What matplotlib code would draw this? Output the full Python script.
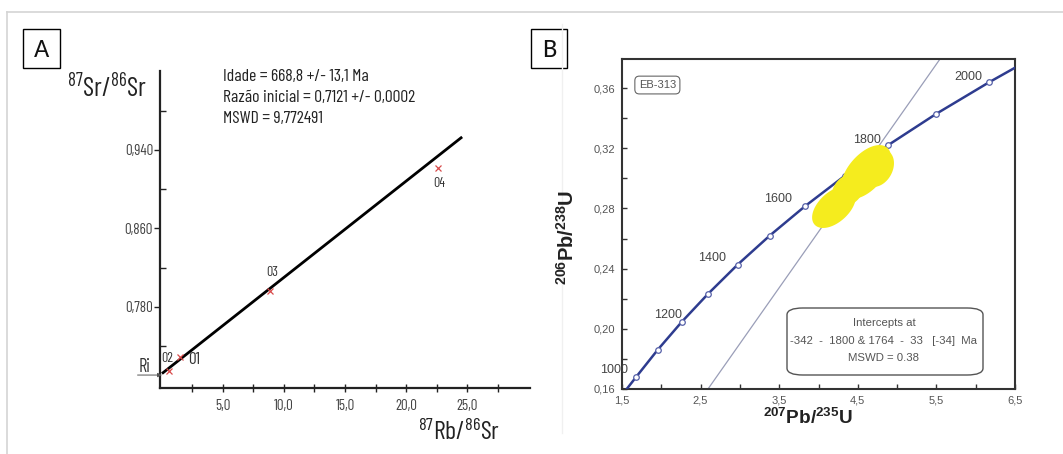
import numpy as np
import matplotlib
matplotlib.use("Agg")
import matplotlib.pyplot as plt
from matplotlib import font_manager
from matplotlib.patches import Rectangle, Polygon, FancyBboxPatch

W, H = 1063, 454
_avail = {f.name for f in font_manager.fontManager.ttflist}

def pick(*names):
    return next((n for n in names if n in _avail), "DejaVu Sans")

NARROW = pick("Barlow Condensed", "Roboto Condensed", "Archivo Narrow",
              "PT Sans Narrow", "Asap Condensed")
SANS = pick("Arimo", "Liberation Sans", "DejaVu Sans")
LETTER = pick("Carlito", "Calibri", "DejaVu Sans")

# ----------------------------------------------------------------------
# panel A data: Rb-Sr isochron
rb_sr = [0.57, 1.48, 8.85, 22.6]
sr_sr = [0.7148, 0.7290, 0.7963, 0.9217]
sample_ids = ["02", "01", "03", "04"]
label_offsets = [(-1, 9), (10, -2), (2, 13), (1, -11)]   # points
iso_x = [0.0, 24.6]
iso_y = [0.7121, 0.9533]
ri_value = 0.7121
a_xticks = [5.0, 10.0, 15.0, 20.0, 25.0]
a_xticklabels = ["5,0", "10,0", "15,0", "20,0", "25,0"]
a_yticks = [0.780, 0.860, 0.940]
a_yticklabels = ["0,780", "0,860", "0,940"]
a_text = ["Idade = 668,8 +/- 13,1 Ma",
          "Razão inicial = 0,7121 +/- 0,0002",
          "MSWD = 9,772491"]

# panel B data: U-Pb concordia
ages = [1000, 1100, 1200, 1300, 1400, 1500, 1600, 1700, 1800, 1900, 2000]
pb207_u235 = [1.677, 1.955, 2.260, 2.598, 2.970, 3.381, 3.834, 4.335, 4.887, 5.496, 6.169]
pb206_u238 = [0.1678, 0.1861, 0.2046, 0.2234, 0.2426, 0.2620, 0.2817, 0.3017, 0.3221, 0.3428, 0.3638]
curve_x = [1.56] + pb207_u235 + [6.50]
curve_y = [0.160] + pb206_u238 + [0.3735]
labelled_ages = [1000, 1200, 1400, 1600, 1800, 2000]
age_label_dx = [-16, -10, -18, -20, -15, -15]   # points
age_label_dy = [5, 5, 5, 5, 4, 4]
discordia_x = [2.594, 5.546]
discordia_y = [0.160, 0.3793]
# error ellipses (centre, half-extent in x and y, correlation)
ell_x = [4.604, 4.757, 4.197, 4.375, 4.50]
ell_y = [0.3042, 0.3068, 0.2809, 0.2922, 0.2990]
ell_sx = [0.305, 0.190, 0.265, 0.190, 0.200]
ell_sy = [0.01720, 0.01180, 0.01320, 0.0100, 0.0120]
ell_rho = [0.560, 0.276, 0.520, 0.28, 0.45]
b_xticks = [1.5, 2.5, 3.5, 4.5, 5.5, 6.5]
b_xticklabels = ["1,5", "2,5", "3,5", "4,5", "5,5", "6,5"]
b_yticks = [0.16, 0.20, 0.24, 0.28, 0.32, 0.36]
b_yticklabels = ["0,16", "0,20", "0,24", "0,28", "0,32", "0,36"]
b_box_text = ["Intercepts at", "-342  -  1800 & 1764  -  33   [-34]  Ma",
              "MSWD = 0.38"]

# ----------------------------------------------------------------------
def fx(px):
    return px / W

def fy(py):
    return 1 - py / H

def ax_rect(l, t, r, b):
    return [fx(l), fy(b), (r - l) / W, (b - t) / H]

fig = plt.figure(figsize=(W / 100, H / 100), dpi=100)
fig.patch.set_facecolor("white")
renderer = fig.canvas.get_renderer()

def fit(txt, target, vertical=False):
    """scale a text's font size so that its drawn width is `target` px"""
    bb = txt.get_window_extent(renderer)
    cur = bb.height if vertical else bb.width
    txt.set_fontsize(txt.get_fontsize() * target / cur)
    return txt.get_fontsize()

# outer frame of the composite picture
fig.add_artist(plt.Line2D([fx(7), 1], [fy(12), fy(12)], color="#d4d4d4", lw=1.2))
fig.add_artist(plt.Line2D([fx(7), fx(7)], [fy(12), 0], color="#d4d4d4", lw=1.2))
fig.add_artist(plt.Line2D([fx(562), fx(562)], [fy(24), fy(433)], color="#f0f0f0", lw=1.0))

# panel letters
for l, t, r, b, s in [(23, 29, 60, 68, "A"), (531, 29, 567, 68, "B")]:
    fig.add_artist(Rectangle((fx(l), fy(b)), (r - l) / W, (b - t) / H,
                             fill=False, ec="black", lw=1.0))
    fig.text(fx((l + r) / 2), fy((t + b) / 2 + 1), s, ha="center", va="center",
             fontsize=19, family=LETTER, color="#111111")

# ======================================================================
# Panel A
# ======================================================================
axA = fig.add_axes(ax_rect(160, 71, 530, 388))
axA.set_xlim(-0.16, 30.16)
axA.set_ylim(0.6974, 1.0205)
for s in ["top", "right"]:
    axA.spines[s].set_visible(False)
for s in ["left", "bottom"]:
    axA.spines[s].set_linewidth(1.6)
    axA.spines[s].set_color("#222222")

axA.plot(iso_x, iso_y, color="black", lw=2.0, solid_capstyle="butt", zorder=3)
axA.plot(rb_sr, sr_sr, "x", color="#d84a4a", ms=4.5, mew=0.9, zorder=4)
for x, y, t, (dx, dy) in zip(rb_sr, sr_sr, sample_ids, label_offsets):
    lab = axA.annotate(t, (x, y), xytext=(dx, dy), textcoords="offset points",
                       ha="center", va="center", fontsize=10.5, family=NARROW,
                       color="#333333")
    fit(lab, 12)

axA.annotate("", xy=(0, ri_value - 0.0015), xytext=(-2.0, ri_value - 0.0015),
             arrowprops=dict(arrowstyle="-|>", color="#555555", lw=0.7,
                             mutation_scale=6, shrinkA=0, shrinkB=0),
             annotation_clip=False)
ri = axA.text(-1.45, ri_value + 0.007, "Ri", ha="center", va="center",
              fontsize=12.5, family=NARROW, color="#333333", clip_on=False)
fit(ri, 12)

axA.set_xticks(a_xticks)
axA.set_xticklabels(a_xticklabels)
axA.set_xticks(np.arange(2.5, 30, 5.0), minor=True)
axA.set_yticks(a_yticks)
axA.set_yticklabels(a_yticklabels)
axA.set_yticks([0.74, 0.82, 0.90, 0.98], minor=True)
axA.tick_params(axis="x", which="both", direction="inout", length=6, width=1.0,
                color="#222222", pad=5)
axA.tick_params(axis="y", which="major", direction="out", length=4, width=1.0,
                color="#222222", pad=1)
axA.tick_params(axis="y", which="minor", direction="in", length=4, width=1.0,
                color="#222222")
for lab in axA.get_xticklabels() + axA.get_yticklabels():
    lab.set_family(NARROW)
    lab.set_fontsize(10.5)
    lab.set_color("#444444")
size = fit(axA.get_yticklabels()[0], 28)
for lab in axA.get_xticklabels() + axA.get_yticklabels():
    lab.set_fontsize(size)

a_texts = [fig.text(fx(223), fy(77 + 20.5 * i), t, ha="left", va="center",
                    fontsize=11, family=NARROW, color="#222222")
           for i, t in enumerate(a_text)]
size = fit(a_texts[1], 192)
for t in a_texts:
    t.set_fontsize(size)

ylab = fig.text(fx(107), fy(88), r"$\mathregular{^{87}Sr/^{86}Sr}$", ha="center",
                va="center", fontsize=21, family=NARROW, color="#222222")
fit(ylab, 80)
xlab = fig.text(fx(459), fy(432), r"$\mathregular{^{87}Rb/^{86}Sr}$", ha="center",
                va="center", fontsize=21, family=NARROW, color="#222222")
fit(xlab, 82)

# ======================================================================
# Panel B
# ======================================================================
axB = fig.add_axes(ax_rect(622, 59, 1015, 389))
axB.set_xlim(1.5, 6.5)
axB.set_ylim(0.16, 0.3793)
for s in axB.spines.values():
    s.set_linewidth(1.5)
    s.set_color("#333333")

axB.plot(discordia_x, discordia_y, color="#9a9eb8", lw=0.9, zorder=2)
axB.plot(curve_x, curve_y, color="#2e3c8f", lw=1.8, zorder=3)
axB.plot(pb207_u235, pb206_u238, "o", ms=4, mfc="white", mec="#5560a8",
         mew=0.9, zorder=4)

t = np.linspace(0, 2 * np.pi, 120)
for cx, cy, sx, sy, r in zip(ell_x, ell_y, ell_sx, ell_sy, ell_rho):
    cov = np.array([[sx * sx, r * sx * sy], [r * sx * sy, sy * sy]])
    L = np.linalg.cholesky(cov)
    pts = (L @ np.vstack([np.cos(t), np.sin(t)])).T + [cx, cy]
    axB.add_patch(Polygon(pts, closed=True, fc="#f5ec1e", ec="#f5ec1e",
                          lw=1.5, zorder=5))

for age, dx, dy in zip(labelled_ages, age_label_dx, age_label_dy):
    i = ages.index(age)
    lab = axB.annotate(str(age), (pb207_u235[i], pb206_u238[i]), xytext=(dx, dy),
                       textcoords="offset points", ha="center", va="center",
                       fontsize=9, family=SANS, color="#444444", zorder=6,
                       annotation_clip=False)
    fit(lab, 28)

eb = axB.text(1.95, 0.362, "EB-313", ha="center", va="center", fontsize=8,
              family=SANS, color="#555555",
              bbox=dict(boxstyle="round,pad=0.35,rounding_size=0.4", fc="white",
                        ec="#666666", lw=0.8))

box = FancyBboxPatch((fx(787), fy(375)), (983 - 787) / W, (375 - 308) / H,
                     boxstyle="round,pad=0,rounding_size=0.015",
                     transform=fig.transFigure, fc="white", ec="#555555",
                     lw=1.0, zorder=6)
fig.add_artist(box)
b_texts = [fig.text(fx(884), fy(323 + 17.5 * i), s, ha="center", va="center",
                    fontsize=8, family=SANS, color="#555555", zorder=7)
           for i, s in enumerate(b_box_text)]
size = fit(b_texts[1], 188)
for t in b_texts:
    t.set_fontsize(size)

axB.set_xticks(b_xticks)
axB.set_xticklabels(b_xticklabels)
axB.set_xticks(np.arange(2.0, 6.5, 1.0), minor=True)
axB.set_yticks(b_yticks)
axB.set_yticklabels(b_yticklabels)
axB.set_yticks(np.arange(0.18, 0.38, 0.04), minor=True)
axB.tick_params(which="both", direction="in", length=3.5, width=1.0,
                color="#333333", labelsize=8, labelcolor="#555555", pad=5)
for lab in axB.get_xticklabels() + axB.get_yticklabels():
    lab.set_family(SANS)

bx = fig.text(fx(808), fy(418), r"$\mathregular{^{207}Pb/^{235}U}$", ha="center",
              va="center", fontsize=13, fontweight="bold", family=SANS,
              color="#222222")
fit(bx, 90)
by = fig.text(fx(567), fy(237), r"$\mathregular{^{206}Pb/^{238}U}$", ha="center",
              va="center", rotation=90, fontsize=13, fontweight="bold",
              family=SANS, color="#222222")
fit(by, 95, vertical=True)

fig.savefig("out.png", dpi=100, facecolor="white")
